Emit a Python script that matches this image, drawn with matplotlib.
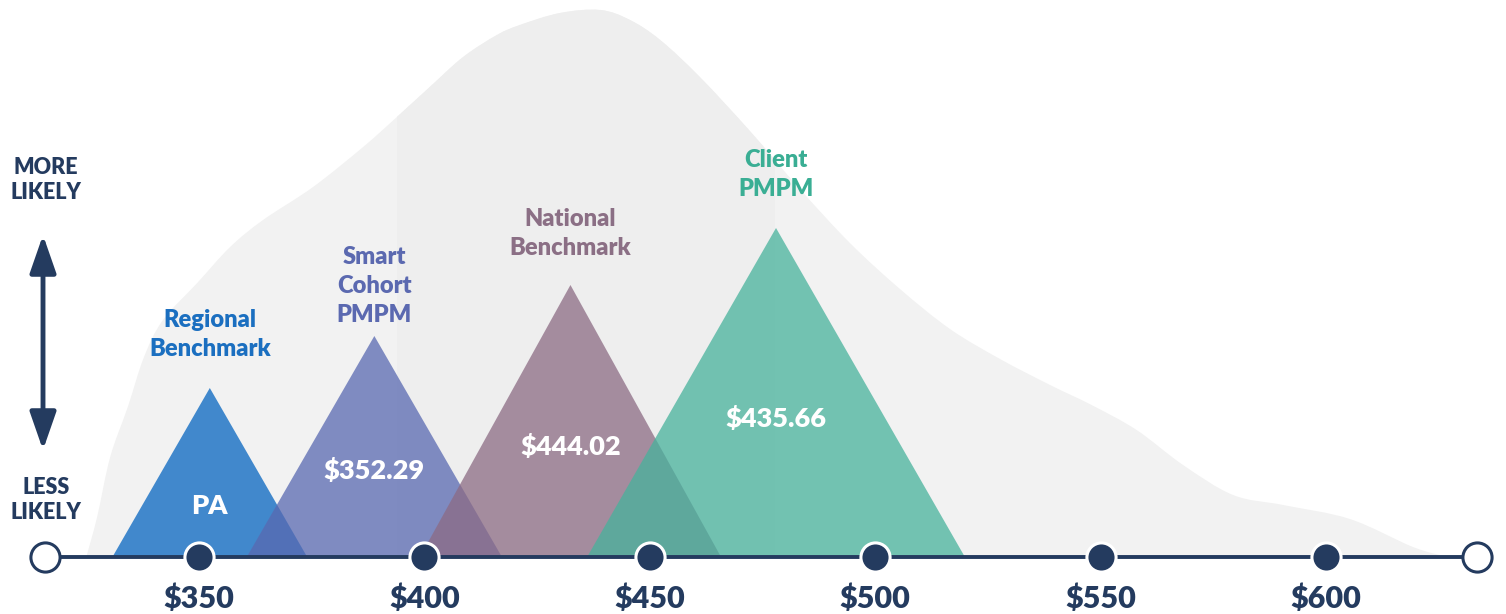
import matplotlib

matplotlib.use("Agg")

import matplotlib.pyplot as plt
import numpy as np
from matplotlib.patches import PathPatch, Polygon, Rectangle
from matplotlib.path import Path

plt.rcParams["font.family"] = ["Lato", "DejaVu Sans"]

# background "likelihood" outline: price ($) and height above the axis
curve_price = [325.0, 327.4, 330.3, 334.2, 337.8, 342.0, 349.6, 356.9, 364.2,
               375.3, 386.4, 393.9, 401.2, 408.6, 416.1, 421.2, 430.1, 439.0,
               445.6, 452.3, 461.1, 472.2, 483.3, 494.4, 505.5, 516.6, 527.7,
               538.8, 548.0, 558.0, 568.3, 579.4, 590.5, 605.3, 619.3, 627.0]
curve_height = [0, 40, 100, 150, 200, 237, 274, 310, 337, 370, 410, 440, 470,
                500, 522, 532, 544, 547, 537, 517, 480, 426, 368, 314, 268, 228,
                198, 172, 152, 127, 92, 62, 52, 38, 10, 0]
band_range = (393.9, 477.8)

# the four benchmark triangles
names = ["Regional\nBenchmark", "Smart\nCohort\nPMPM", "National\nBenchmark",
         "Client\nPMPM"]
values = ["PA", "$352.29", "$444.02", "$435.66"]
centers = [352.4, 388.9, 432.4, 478.0]
half_widths = [21.6, 28.3, 33.4, 41.9]
heights = [169, 221, 272, 329]
colors = ["#0565c0", "#5969b1", "#8c6b84", "#47b29c"]
label_colors = ["#1b6fc0", "#5b69b0", "#8b6f85", "#3aae94"]

# axis
tick_values = [350, 400, 450, 500, 550, 600]
tick_labels = ["$350", "$400", "$450", "$500", "$550", "$600"]
axis_ends = [315.8, 633.5]

NAVY = "#243b5f"


def smooth_path(xs, ys):
    """Catmull-Rom curve through the outline points, closed along the axis."""
    pts = np.column_stack([xs, ys]).astype(float)
    n = len(pts)
    verts = [pts[0]]
    codes = [Path.MOVETO]
    for i in range(n - 1):
        p0 = pts[max(i - 1, 0)]
        p1 = pts[i]
        p2 = pts[i + 1]
        p3 = pts[min(i + 2, n - 1)]
        verts += [p1 + (p2 - p0) / 6.0, p2 - (p3 - p1) / 6.0, p2]
        codes += [Path.CURVE4] * 3
    verts.append(pts[0])
    codes.append(Path.CLOSEPOLY)
    return Path(verts, codes)


fig = plt.figure(figsize=(15.06, 6.14), dpi=100)
ax = fig.add_axes([0, 0, 1, 1])
ax.set_xlim(305.86, 639.93)
ax.set_ylim(-57, 557)
ax.axis("off")

outline = smooth_path(curve_price, curve_height)
ax.add_patch(PathPatch(outline, facecolor="#f2f2f2", edgecolor="none", zorder=1))
band = PathPatch(outline, facecolor="#eeeeee", edgecolor="none", zorder=1.1)
ax.add_patch(band)
clip = Rectangle((band_range[0], -10), band_range[1] - band_range[0], 600,
                 transform=ax.transData)
band.set_clip_path(clip)

# triangles, labels and values
name_gap = [28, 10, 26, 28]
value_level = [51, 86, 110, 138]
for i, (c, hw, h) in enumerate(zip(centers, half_widths, heights)):
    tri = Polygon([(c - hw, 0), (c, h), (c + hw, 0)], closed=True,
                  facecolor=colors[i], edgecolor="none", alpha=0.75, zorder=2 + i)
    ax.add_patch(tri)
    ax.text(c, h + name_gap[i], names[i], ha="center", va="bottom",
            color=label_colors[i], fontsize=17, fontweight="heavy",
            linespacing=1.38, zorder=10)
    ax.text(c, value_level[i], values[i], ha="center", va="center",
            color="white", fontsize=19.5, fontweight="heavy", zorder=10)

# axis line with markers
ax.plot(axis_ends, [0, 0], color=NAVY, linewidth=2.8, zorder=8,
        solid_capstyle="butt")
ax.plot(tick_values, [0] * len(tick_values), "o", markersize=21,
        markerfacecolor=NAVY, markeredgecolor="white", markeredgewidth=2.2,
        zorder=9)
ax.plot(axis_ends, [0, 0], "o", markersize=21, markerfacecolor="white",
        markeredgecolor=NAVY, markeredgewidth=2.2, zorder=9)
for v, lab in zip(tick_values, tick_labels):
    ax.text(v, -42, lab, ha="center", va="center", color=NAVY, fontsize=22,
            fontweight="heavy", zorder=10)

# likelihood scale on the left
ax.text(316.1, 377, "MORE\nLIKELY", ha="center", va="center", color=NAVY,
        fontsize=15.5, fontweight="heavy", linespacing=1.25)
ax.text(316.1, 57, "LESS\nLIKELY", ha="center", va="center", color=NAVY,
        fontsize=15.5, fontweight="heavy", linespacing=1.25)
ax.annotate("", xy=(315.4, 322), xytext=(315.4, 107),
            arrowprops={"arrowstyle": "<|-|>,head_length=1.15,head_width=0.4",
                        "color": NAVY, "linewidth": 3.5, "mutation_scale": 20,
                        "shrinkA": 0, "shrinkB": 0})

fig.savefig("out.png", dpi=100)
plt.close(fig)
